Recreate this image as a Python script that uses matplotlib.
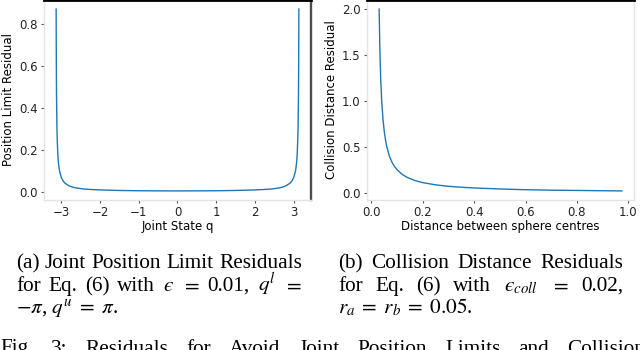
import matplotlib
matplotlib.use("Agg")
import matplotlib.pyplot as plt

W, H = 640, 350
SERIF = "Liberation Serif"
BLUE = "#1f77b4"
LIGHT = "#e4e4e4"

# panel (a): joint position limit residual
q_joint = [-3.13, -3.125, -3.12, -3.11, -3.10, -3.09, -3.08, -3.07, -3.05, -3.04,
           -3.0, -2.95, -2.9, -2.8, -2.7, -2.6, -2.4, -2.2, -2.0, -1.5, -1.0, -0.5,
           0.0, 0.5, 1.0, 1.5, 2.0, 2.2, 2.4, 2.6, 2.7, 2.8, 2.9, 2.95, 3.0,
           3.04, 3.05, 3.07, 3.08, 3.09, 3.10, 3.11, 3.12, 3.125, 3.13]
res_joint = [0.87, 0.60, 0.46, 0.315, 0.24, 0.195, 0.16, 0.138, 0.11, 0.099,
             0.072, 0.053, 0.043, 0.031, 0.024, 0.020, 0.015, 0.0128, 0.0111, 0.0085, 0.0072, 0.0066,
             0.0064, 0.0066, 0.0072, 0.0085, 0.0111, 0.0128, 0.015, 0.020, 0.024, 0.031, 0.043, 0.053, 0.072,
             0.099, 0.11, 0.138, 0.16, 0.195, 0.24, 0.315, 0.46, 0.60, 0.87]

# panel (b): collision distance residual
dist = [0.03, 0.033, 0.036, 0.04, 0.045, 0.05, 0.055, 0.06, 0.07, 0.08, 0.09, 0.1,
        0.12, 0.14, 0.17, 0.2, 0.25, 0.3, 0.35, 0.4, 0.5, 0.6, 0.7, 0.8, 0.9, 0.975]
res_coll = [2.0, 1.54, 1.25, 1.0, 0.80, 0.667, 0.571, 0.50, 0.40, 0.333, 0.286, 0.25,
            0.20, 0.167, 0.133, 0.111, 0.087, 0.071, 0.061, 0.053, 0.042, 0.034, 0.029,
            0.026, 0.023, 0.021]

yticks_a = [0.0, 0.2, 0.4, 0.6, 0.8]
xticks_a = [-3, -2, -1, 0, 1, 2, 3]
yticks_b = [0.0, 0.5, 1.0, 1.5, 2.0]
xticks_b = [0.0, 0.2, 0.4, 0.6, 0.8, 1.0]

plt.rcParams["mathtext.fontset"] = "stix"

fig = plt.figure(figsize=(W / 100, H / 100), dpi=100, facecolor="white")


def make_axes(left_px, right_dark=False):
    ax = fig.add_axes([left_px / W, 1 - 200 / H, 267 / W, 200 / H])
    for s in ("left", "bottom", "right"):
        ax.spines[s].set_color(LIGHT)
        ax.spines[s].set_linewidth(1.0)
    ax.spines["top"].set_color("black")
    ax.spines["top"].set_linewidth(2.0)
    if right_dark:
        ax.spines["right"].set_color("#4d4d4d")
        ax.spines["right"].set_linewidth(1.7)
    ax.tick_params(labelsize=8.5, length=2.5, width=0.8, pad=2.0,
                   color="#555555", labelcolor="#222222")
    return ax


ax1 = make_axes(44, right_dark=True)
ax1.plot(q_joint, res_joint, color=BLUE, linewidth=1.0)
ax1.set_xticks(xticks_a)
ax1.set_yticks(yticks_a)
ax1.set_xlabel("Joint State q", fontsize=8.5, labelpad=0.5)
ax1.set_ylabel("Position Limit Residual", fontsize=8.5, labelpad=3)

ax2 = make_axes(367)
ax2.plot(dist, res_coll, color=BLUE, linewidth=1.0)
ax2.set_xticks(xticks_b)
ax2.set_yticks(yticks_b)
ax2.set_xlabel("Distance between sphere centres", fontsize=8.5, labelpad=0.5)
ax2.set_ylabel("Collision Distance Residual", fontsize=8.5, labelpad=3)

SIZE = 15.3
EPS = "\u03f5"


def spread(words, x0, y, x1=None, gap=None):
    # place words on a baseline: justified to x1, or with a fixed gap
    texts = [fig.text(x0 / W, 1 - y / H, w, fontsize=SIZE, family=SERIF,
                      va="baseline", ha="left") for w in words]
    fig.canvas.draw()
    r = fig.canvas.get_renderer()
    widths = [t.get_window_extent(r).width for t in texts]
    if gap is None:
        gap = (x1 - x0 - sum(widths)) / (len(words) - 1)
    x = x0
    for t, w in zip(texts, widths):
        t.set_x(x / W)
        x += w + gap


def plain(s, x0, y):
    fig.text(x0 / W, 1 - y / H, s, fontsize=SIZE, family=SERIF, va="baseline", ha="left")


spread(["(a)", "Joint", "Position", "Limit", "Residuals"], 16, 268.5, x1=302)
spread(["for", "Eq.", "(6)", "with", f"${EPS}$", "$=$", "0.01,", r"$q^l$", "$=$"], 16, 291, x1=302)
plain(r"$-\pi$, $q^u \;=\; \pi$.", 16, 313.5)

spread(["(b)", "Collision", "Distance", "Residuals"], 338, 268.5, x1=623)
spread(["for", "Eq.", "(6)", "with", f"${EPS}_{{coll}}$", "$=$", "0.02,"], 338, 291, x1=623)
plain(r"$r_a \;=\; r_b \;=\; 0.05$.", 338, 313.5)

spread(["Fig.", "3:", "Residuals", "for", "Avoid", "Joint", "Position", "Limits",
        "and", "Collision"], 0, 353.5, x1=645)

fig.savefig("out.png", dpi=100, facecolor="white")
